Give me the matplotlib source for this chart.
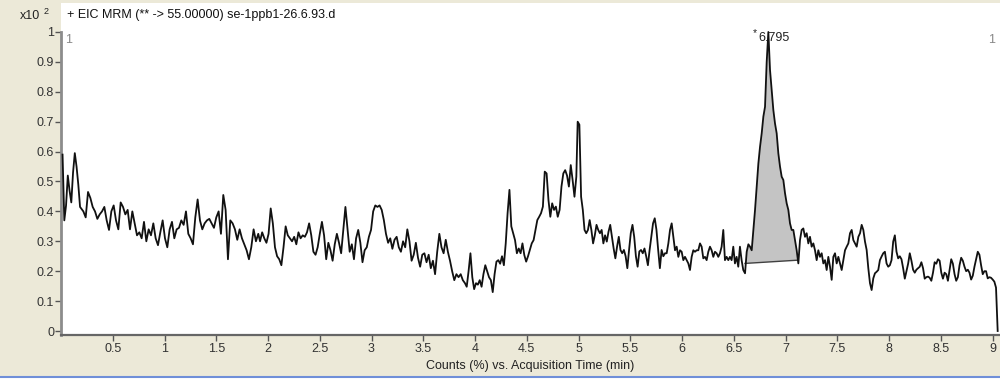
import numpy as np
import matplotlib
matplotlib.use("Agg")
import matplotlib.pyplot as plt
from matplotlib.lines import Line2D
from matplotlib.patches import Rectangle

plt.rcParams["font.family"] = ["Liberation Sans", "DejaVu Sans"]

# EIC trace (counts x10^2).
# every piece is evenly sampled between its own start and end time (min)
seg_1a = [0.59, 0.37, 0.42, 0.52, 0.47, 0.43, 0.53, 0.595, 0.55, 0.49, 0.415]
seg_1b = [0.40, 0.38, 0.465, 0.445, 0.415, 0.40, 0.375, 0.39, 0.40,
          0.415, 0.37, 0.338, 0.40, 0.42, 0.37, 0.34, 0.43, 0.415, 0.39,
          0.405, 0.34, 0.40, 0.36, 0.32, 0.33, 0.31, 0.365, 0.30, 0.34,
          0.32, 0.36, 0.31, 0.287, 0.33, 0.37, 0.31, 0.28, 0.34, 0.365,
          0.31, 0.34, 0.345, 0.37, 0.355, 0.40, 0.325, 0.31, 0.29, 0.38,
          0.44, 0.37, 0.34, 0.36, 0.37, 0.375, 0.36, 0.345, 0.38, 0.40,
          0.325, 0.455, 0.405, 0.24, 0.37, 0.36, 0.34, 0.305, 0.34, 0.31,
          0.29, 0.27, 0.24, 0.28, 0.34, 0.30, 0.325]
seg_2 = [0.30, 0.33, 0.31, 0.295, 0.325, 0.41, 0.36, 0.28, 0.25, 0.24,
         0.22, 0.28, 0.35, 0.32, 0.31, 0.30, 0.315, 0.29, 0.33, 0.31,
         0.32, 0.315, 0.33, 0.36, 0.32, 0.265, 0.255, 0.28, 0.325, 0.365,
         0.32, 0.24, 0.295, 0.27, 0.235, 0.29, 0.325, 0.295, 0.26, 0.338,
         0.415, 0.338, 0.265, 0.29, 0.24, 0.31, 0.338, 0.295, 0.23, 0.27,
         0.28, 0.315, 0.338, 0.40, 0.42, 0.415, 0.42, 0.405, 0.371, 0.325,
         0.295, 0.31, 0.275, 0.305, 0.315, 0.28, 0.265, 0.30, 0.28, 0.34,
         0.30, 0.235, 0.255, 0.295, 0.245, 0.215, 0.255, 0.26, 0.23, 0.255,
         0.21, 0.235, 0.19, 0.265, 0.325, 0.28, 0.26, 0.305, 0.265, 0.235,
         0.20, 0.17, 0.19, 0.18, 0.19, 0.17, 0.16]
seg_3a = [0.148, 0.20, 0.26, 0.18, 0.14, 0.16, 0.155, 0.17, 0.148, 0.19,
          0.22, 0.20, 0.18, 0.17, 0.13, 0.19, 0.232, 0.237, 0.225, 0.25,
          0.22, 0.293, 0.394, 0.472, 0.35, 0.327, 0.304, 0.26, 0.276, 0.26,
          0.293, 0.254, 0.232, 0.25, 0.271, 0.293, 0.304, 0.338, 0.371, 0.382,
          0.394, 0.416, 0.533, 0.527, 0.438, 0.382, 0.427, 0.405, 0.416, 0.382,
          0.405, 0.483, 0.527, 0.538, 0.52, 0.483, 0.555, 0.505, 0.449, 0.516]
seg_3b = [0.70, 0.69, 0.449, 0.405, 0.338, 0.327, 0.338, 0.371, 0.338, 0.293,
          0.32, 0.355, 0.338, 0.327, 0.338, 0.293, 0.32, 0.299, 0.332, 0.355,
          0.315, 0.276, 0.243, 0.282, 0.315, 0.271, 0.26, 0.271, 0.25, 0.21,
          0.271, 0.327, 0.355, 0.315, 0.25, 0.215, 0.266, 0.271, 0.26, 0.276,
          0.25, 0.22, 0.271, 0.315, 0.36, 0.377, 0.338, 0.271, 0.21, 0.271,
          0.25, 0.26]
seg_4a = [0.26, 0.293, 0.338, 0.36, 0.315, 0.27, 0.282, 0.248, 0.27,
          0.265, 0.237, 0.248, 0.237, 0.226, 0.204, 0.248, 0.27, 0.265, 0.27,
          0.27, 0.293, 0.282, 0.243, 0.248, 0.237, 0.265, 0.282, 0.27, 0.248,
          0.265, 0.26, 0.248, 0.26, 0.282, 0.338, 0.237, 0.248, 0.237, 0.248,
          0.237, 0.282, 0.226, 0.248, 0.215, 0.282, 0.237, 0.204]
seg_peak = [0.193, 0.265, 0.29, 0.282, 0.27, 0.338, 0.405, 0.483, 0.56, 0.616,
            0.661, 0.717, 0.75, 0.90, 1.0, 0.873, 0.806, 0.739, 0.694, 0.661,
            0.594, 0.55, 0.516, 0.505, 0.461, 0.427, 0.405, 0.36, 0.338, 0.338,
            0.304, 0.27, 0.226]
seg_4c = [0.304, 0.338, 0.343, 0.315, 0.327, 0.293, 0.315, 0.282, 0.293, 0.27,
          0.237, 0.27, 0.248, 0.26, 0.226, 0.237, 0.204, 0.248, 0.215, 0.171,
          0.248, 0.26, 0.226, 0.248, 0.226, 0.204, 0.237, 0.27, 0.282, 0.293,
          0.327, 0.338, 0.304, 0.293, 0.282, 0.315, 0.327]
seg_5 = [0.355, 0.338, 0.299, 0.271, 0.21, 0.16, 0.137, 0.176, 0.193, 0.198,
         0.204, 0.237, 0.249, 0.26, 0.265, 0.226, 0.215, 0.22, 0.237, 0.299,
         0.32, 0.265, 0.243, 0.25, 0.24, 0.21, 0.175, 0.20, 0.225, 0.26,
         0.235, 0.205, 0.195, 0.205, 0.21, 0.215, 0.23, 0.21, 0.175, 0.18,
         0.182, 0.178, 0.168, 0.195, 0.23, 0.225, 0.24, 0.235, 0.195, 0.175,
         0.195, 0.19, 0.168, 0.205, 0.24, 0.225, 0.19, 0.168, 0.18, 0.22,
         0.245, 0.235, 0.215, 0.20, 0.205, 0.195, 0.172, 0.185, 0.215, 0.24,
         0.265, 0.255, 0.22, 0.19, 0.20, 0.20, 0.176, 0.18, 0.178, 0.172,
         0.165, 0.145, 0.0]

segments = [seg_1a, seg_1b, seg_2, seg_3a, seg_3b, seg_4a, seg_peak, seg_4c, seg_5]
seg_start = [0.015, 0.216, 1.923, 3.920, 4.992, 5.852, 6.609, 7.140, 7.736]
seg_end = [0.184, 1.906, 3.903, 4.979, 5.836, 6.592, 7.124, 7.720, 9.050]

peak_label = "6.795"
peak_base_t = [6.609, 7.124]
peak_base_v = [0.226, 0.237]

xticks = [0.5, 1, 1.5, 2, 2.5, 3, 3.5, 4, 4.5, 5, 5.5, 6, 6.5, 7, 7.5, 8, 8.5, 9]
xtick_labels = ["0.5", "1", "1.5", "2", "2.5", "3", "3.5", "4", "4.5", "5",
                "5.5", "6", "6.5", "7", "7.5", "8", "8.5", "9"]
yticks = [0, 0.1, 0.2, 0.3, 0.4, 0.5, 0.6, 0.7, 0.8, 0.9, 1]
ytick_labels = ["0", "0.1", "0.2", "0.3", "0.4", "0.5", "0.6", "0.7", "0.8", "0.9", "1"]

BEIGE = "#ECE9D8"
W, H = 1000, 381

fig = plt.figure(figsize=(W / 100, H / 100), dpi=100, facecolor=BEIGE)
ax = fig.add_axes([61 / W, 46 / H, 939 / W, 332 / H])
ax.set_facecolor("white")

t_all = np.concatenate([np.linspace(a, b, len(s)) for a, b, s in zip(seg_start, seg_end, segments)])
v_all = np.concatenate([np.asarray(s, dtype=float) for s in segments])

# integrated peak: trace over straight baseline
t_pk = np.linspace(seg_start[6], seg_end[6], len(seg_peak))
ax.fill(np.r_[t_pk, peak_base_t[::-1]], np.r_[seg_peak, peak_base_v[::-1]],
        color="#c4c4c4", lw=0, zorder=2)
ax.plot(peak_base_t, peak_base_v, color="#404040", lw=1.0, zorder=3)

ax.plot(t_all, v_all, color="#111111", lw=1.3, zorder=4)

ax.text(6.680, 0.995, "*", fontsize=7.5, ha="left", va="center", color="#222222", zorder=1)
ax.text(6.734, 0.98, peak_label, fontsize=9, ha="left", va="center", color="#222222", zorder=1)

ax.set_xlim(0, 939 / 103.5)
ax.set_ylim(-4 / 299, 328 / 299)
ax.set_xticks(xticks, xtick_labels)
ax.set_yticks(yticks, ytick_labels)
ax.tick_params(axis="both", direction="out", length=4, width=1, color="#555555",
               labelsize=9, labelcolor="#333333")
ax.tick_params(axis="y", pad=1)
ax.tick_params(axis="x", pad=2)

for side in ("top", "right"):
    ax.spines[side].set_visible(False)
ax.spines["left"].set_bounds(-4 / 299, 1.0)
ax.spines["left"].set_color("#8c8c8c")
ax.spines["left"].set_linewidth(2)
ax.spines["bottom"].set_color("#666666")
ax.spines["bottom"].set_linewidth(1.6)

ax.set_xlabel("Counts (%) vs. Acquisition Time (min)", fontsize=9, color="#222222", labelpad=3)

fig.text(20 / W, 1 - 16 / H, "x10", fontsize=9, ha="left", va="center", color="#222222")
fig.text(44 / W, 1 - 12 / H, "2", fontsize=6.5, ha="left", va="center", color="#222222")
fig.text(67 / W, 1 - 15 / H, "+ EIC MRM (** -> 55.00000) se-1ppb1-26.6.93.d",
         fontsize=9, ha="left", va="center", color="#111111")
fig.text(65 / W, 1 - 40 / H, "1", fontsize=9, ha="left", va="center", color="#888888")
fig.text(988 / W, 1 - 40 / H, "1", fontsize=9, ha="left", va="center", color="#888888")

# window frame strip at the bottom of the screenshot
fig.add_artist(Rectangle((0, 0), 1, 3.5 / H, transform=fig.transFigure,
                         facecolor="white", edgecolor="none"))
fig.add_artist(Line2D([0, 1], [4.5 / H, 4.5 / H], transform=fig.transFigure,
                      color="#6f8fd8", lw=1.5))

fig.savefig("out.png", dpi=100, facecolor=BEIGE)
plt.close(fig)
